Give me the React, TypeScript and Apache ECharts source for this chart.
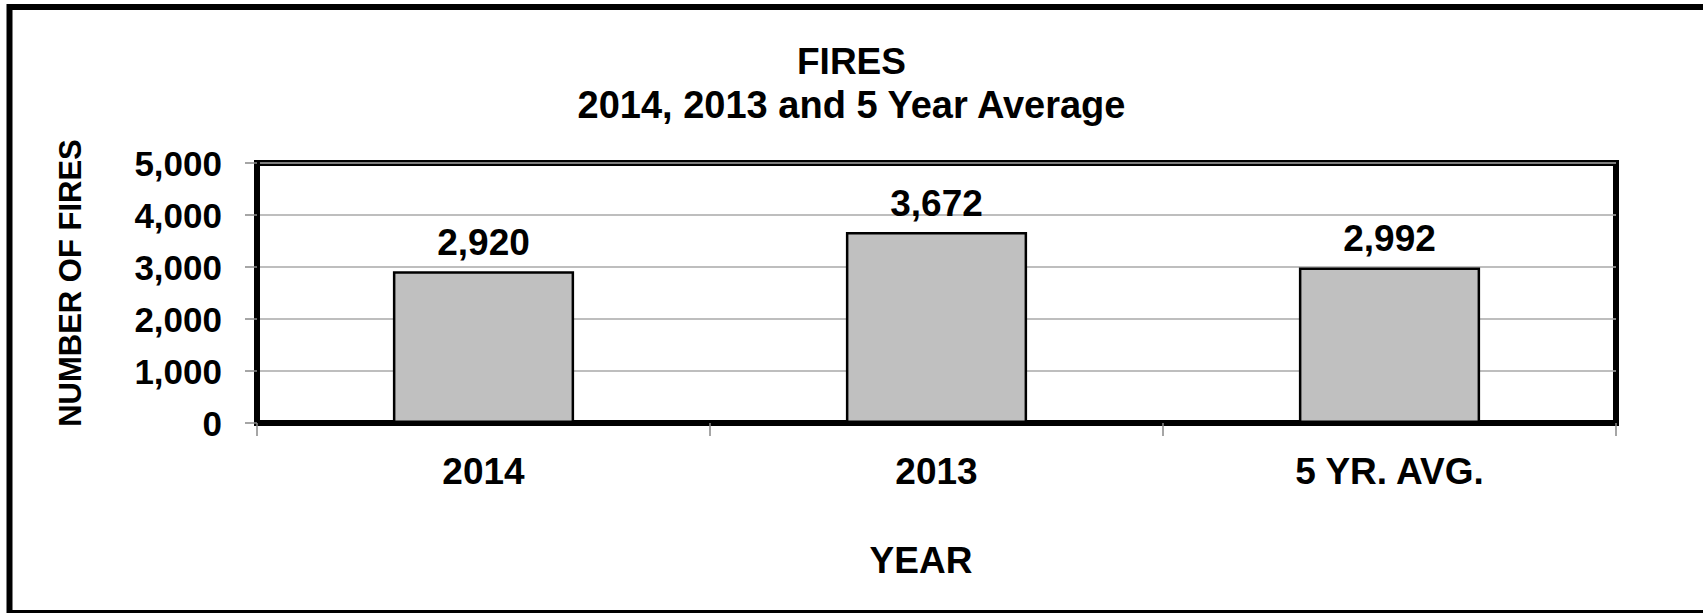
import React, { useEffect, useRef } from "react";
import * as echarts from "echarts";

const categories = ["2014", "2013", "5 YR. AVG."];
const fires = [2920, 3672, 2992];
const yTicks = { min: 0, max: 5000, interval: 1000 };
const titleMain = "FIRES";
const titleSub = "2014, 2013 and 5 Year Average";
const xName = "YEAR";
const yName = "NUMBER OF FIRES";

const FONT = "'Liberation Sans', Arial, sans-serif";
const fmt = (v: number) => v.toLocaleString("en-US");

export default function App() {
  const ref = useRef<HTMLDivElement>(null);
  useEffect(() => {
    if (!ref.current) return;
    const chart = echarts.init(ref.current, null, { renderer: "svg" });
    chart.setOption({
      animation: false,
      backgroundColor: "#ffffff",
      textStyle: { fontFamily: FONT },
      title: [
        {
          text: titleMain,
          left: "center",
          top: 42,
          padding: 0,
          textStyle: { fontFamily: FONT, fontSize: 37, fontWeight: "bold", color: "#000", lineHeight: 38 },
        },
        {
          text: titleSub,
          left: "center",
          top: 86,
          padding: 0,
          textStyle: { fontFamily: FONT, fontSize: 38, fontWeight: "bold", color: "#000", lineHeight: 38 },
        },
      ],
      grid: {
        left: 257,
        top: 163,
        width: 1359,
        height: 260,
        show: true,
        borderColor: "#000",
        borderWidth: 6,
        backgroundColor: "transparent",
        containLabel: false,
      },
      xAxis: {
        type: "category",
        data: categories,
        axisLine: { show: true, lineStyle: { color: "#000", width: 6 } },
        axisTick: { show: true, alignWithLabel: false, length: 13, lineStyle: { color: "#888", width: 1.5 } },
        axisLabel: {
          fontFamily: FONT,
          fontSize: 37,
          fontWeight: "bold",
          color: "#000",
          margin: 30,
        },
        splitLine: { show: false },
      },
      yAxis: {
        type: "value",
        min: yTicks.min,
        max: yTicks.max,
        interval: yTicks.interval,
        axisLine: { show: true, lineStyle: { color: "#000", width: 6 } },
        axisTick: { show: true, length: 12, lineStyle: { color: "#888", width: 1.5 } },
        axisLabel: {
          fontFamily: FONT,
          fontSize: 35,
          fontWeight: "bold",
          color: "#000",
          margin: 35,
          formatter: (v: number) => fmt(v),
        },
        splitLine: { show: true, lineStyle: { color: "#a8a8a8", width: 1.5 } },
      },
      series: [
        {
          type: "bar",
          data: fires,
          barWidth: "40%",
          itemStyle: { color: "#c0c0c0", borderColor: "#000", borderWidth: 2.5 },
          label: {
            show: true,
            position: "top",
            distance: 10,
            fontFamily: FONT,
            fontSize: 37,
            fontWeight: "bold",
            color: "#000",
            formatter: (p: any) => fmt(p.value),
          },
        },
      ],
      graphic: [
        {
          type: "rect",
          silent: true,
          shape: { x: 9.5, y: 7, width: 1730, height: 606 },
          style: { fill: "none", stroke: "#000", lineWidth: 6 },
        },
        {
          type: "text",
          x: 921,
          y: 560,
          style: {
            text: xName,
            fontFamily: FONT,
            fontSize: 37,
            fontWeight: "bold",
            fill: "#000",
            textAlign: "center",
            textVerticalAlign: "middle",
          },
        },
        {
          type: "text",
          x: 70,
          y: 283,
          rotation: Math.PI / 2,
          style: {
            text: yName,
            fontFamily: FONT,
            fontSize: 31,
            fontWeight: "bold",
            fill: "#000",
            textAlign: "center",
            textVerticalAlign: "middle",
          },
        },
      ],
    });
    return () => chart.dispose();
  }, []);
  return (
    <div
      ref={ref}
      style={{ position: "fixed", left: 0, top: 0, width: 1703, height: 613, background: "#fff" }}
    />
  );
}
